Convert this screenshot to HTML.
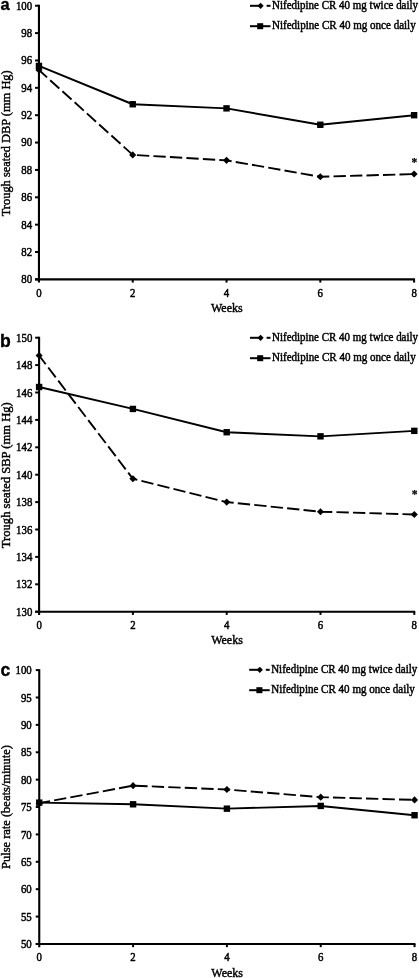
<!DOCTYPE html>
<html><head><meta charset="utf-8"><title>Figure</title>
<style>
html,body{margin:0;padding:0;background:#fff;}
body{width:419px;height:978px;overflow:hidden;font-family:"Liberation Serif",serif;}
svg{display:block;will-change:transform;filter:grayscale(1);}
.tk{font-family:"Liberation Serif",serif;font-size:12.6px;fill:#000;stroke:#000;stroke-width:0.5px;}
.ax{font-family:"Liberation Serif",serif;font-size:12px;fill:#000;stroke:#000;stroke-width:0.42px;}
.lg{font-family:"Liberation Serif",serif;font-size:11.5px;fill:#000;stroke:#000;stroke-width:0.45px;}
.pl{font-family:"Liberation Sans",sans-serif;font-weight:bold;font-size:17.6px;fill:#000;stroke:#000;stroke-width:0.35px;}
</style></head><body>
<svg width="419" height="978" viewBox="0 0 419 978">
<rect x="0" y="0" width="419" height="978" fill="#ffffff"/>

<g>
<path d="M38.95 4.83 V282.60" stroke="#000" stroke-width="2.1" fill="none"/>
<path d="M35.05 279.40 H415.00" stroke="#000" stroke-width="2.1" fill="none"/>
<path d="M35.05 279.40 H38.95" stroke="#000" stroke-width="2.0"/>
<text class="tk" transform="translate(32.15 283.30) scale(0.86 1)" text-anchor="end">80</text>
<path d="M35.05 252.03 H38.95" stroke="#000" stroke-width="2.0"/>
<text class="tk" transform="translate(32.15 255.93) scale(0.86 1)" text-anchor="end">82</text>
<path d="M35.05 224.67 H38.95" stroke="#000" stroke-width="2.0"/>
<text class="tk" transform="translate(32.15 228.57) scale(0.86 1)" text-anchor="end">84</text>
<path d="M35.05 197.30 H38.95" stroke="#000" stroke-width="2.0"/>
<text class="tk" transform="translate(32.15 201.20) scale(0.86 1)" text-anchor="end">86</text>
<path d="M35.05 169.93 H38.95" stroke="#000" stroke-width="2.0"/>
<text class="tk" transform="translate(32.15 173.83) scale(0.86 1)" text-anchor="end">88</text>
<path d="M35.05 142.56 H38.95" stroke="#000" stroke-width="2.0"/>
<text class="tk" transform="translate(32.15 146.47) scale(0.86 1)" text-anchor="end">90</text>
<path d="M35.05 115.20 H38.95" stroke="#000" stroke-width="2.0"/>
<text class="tk" transform="translate(32.15 119.10) scale(0.86 1)" text-anchor="end">92</text>
<path d="M35.05 87.83 H38.95" stroke="#000" stroke-width="2.0"/>
<text class="tk" transform="translate(32.15 91.73) scale(0.86 1)" text-anchor="end">94</text>
<path d="M35.05 60.46 H38.95" stroke="#000" stroke-width="2.0"/>
<text class="tk" transform="translate(32.15 64.36) scale(0.86 1)" text-anchor="end">96</text>
<path d="M35.05 33.10 H38.95" stroke="#000" stroke-width="2.0"/>
<text class="tk" transform="translate(32.15 37.00) scale(0.86 1)" text-anchor="end">98</text>
<path d="M35.05 5.73 H38.95" stroke="#000" stroke-width="2.0"/>
<text class="tk" transform="translate(32.15 9.63) scale(0.86 1)" text-anchor="end">100</text>
<text class="tk" transform="translate(38.95 296.70) scale(0.86 1)" text-anchor="middle">0</text>
<path d="M132.74 279.40 V282.60" stroke="#000" stroke-width="2.0"/>
<text class="tk" transform="translate(132.74 296.70) scale(0.86 1)" text-anchor="middle">2</text>
<path d="M226.53 279.40 V282.60" stroke="#000" stroke-width="2.0"/>
<text class="tk" transform="translate(226.53 296.70) scale(0.86 1)" text-anchor="middle">4</text>
<path d="M320.31 279.40 V282.60" stroke="#000" stroke-width="2.0"/>
<text class="tk" transform="translate(320.31 296.70) scale(0.86 1)" text-anchor="middle">6</text>
<path d="M414.10 279.40 V282.60" stroke="#000" stroke-width="2.0"/>
<text class="tk" transform="translate(414.10 296.70) scale(0.86 1)" text-anchor="middle">8</text>
<text class="ax" x="226.83" y="312.00" text-anchor="middle" textLength="31.7" lengthAdjust="spacingAndGlyphs">Weeks</text>
<text class="ax" transform="translate(9.5 143.3) rotate(-90)" text-anchor="middle" textLength="146" lengthAdjust="spacingAndGlyphs">Trough seated DBP (mm Hg)</text>
<text class="pl" x="0.6" y="9.8" style="font-size:16.4px">a</text>
<path d="M38.95 70.04 L132.74 154.88 L226.53 160.35 L320.31 176.77 L414.10 174.04" stroke="#000" stroke-width="1.9" fill="none" stroke-dasharray="12.33 4.18" stroke-dashoffset="1.4" stroke-linejoin="round"/>
<path d="M38.95 65.94 L132.74 104.25 L226.53 108.36 L320.31 124.78 L414.10 115.20" stroke="#000" stroke-width="1.9" fill="none" stroke-linejoin="round"/>
<path d="M38.95 66.49 L42.50 70.04 L38.95 73.59 L35.40 70.04 Z" fill="#000"/>
<path d="M132.74 151.33 L136.29 154.88 L132.74 158.43 L129.19 154.88 Z" fill="#000"/>
<path d="M226.53 156.80 L230.08 160.35 L226.53 163.90 L222.98 160.35 Z" fill="#000"/>
<path d="M320.31 173.22 L323.86 176.77 L320.31 180.32 L316.76 176.77 Z" fill="#000"/>
<path d="M414.10 170.49 L417.65 174.04 L414.10 177.59 L410.55 174.04 Z" fill="#000"/>
<rect x="35.75" y="62.74" width="6.4" height="6.4" fill="#000"/>
<rect x="129.54" y="101.05" width="6.4" height="6.4" fill="#000"/>
<rect x="223.33" y="105.16" width="6.4" height="6.4" fill="#000"/>
<rect x="317.11" y="121.58" width="6.4" height="6.4" fill="#000"/>
<rect x="410.90" y="112.00" width="6.4" height="6.4" fill="#000"/>
<text class="ax" x="414.30" y="165.94" text-anchor="middle" style="font-size:11.5px;font-weight:bold;stroke-width:0.2px">*</text>
<path d="M250.00 5.80 H259.00" stroke="#000" stroke-width="2.0"/>
<path d="M266.60 5.80 H270.50" stroke="#000" stroke-width="2.0"/>
<path d="M260.60 2.70 L263.70 5.80 L260.60 8.90 L257.50 5.80 Z" fill="#000"/>
<text class="lg" x="272.00" y="9.00" textLength="146.1" lengthAdjust="spacingAndGlyphs">Nifedipine CR 40 mg twice daily</text>
<path d="M250.00 26.20 H270.50" stroke="#000" stroke-width="2.0"/>
<rect x="257.20" y="23.20" width="6.0" height="6.0" fill="#000"/>
<text class="lg" x="272.00" y="29.40" textLength="143.7" lengthAdjust="spacingAndGlyphs">Nifedipine CR 40 mg once daily</text>
</g>
<g>
<path d="M39.10 336.80 V614.90" stroke="#000" stroke-width="2.1" fill="none"/>
<path d="M35.20 611.70 H415.20" stroke="#000" stroke-width="2.1" fill="none"/>
<path d="M35.20 611.70 H39.10" stroke="#000" stroke-width="2.0"/>
<text class="tk" transform="translate(32.30 615.80) scale(0.86 1)" text-anchor="end">130</text>
<path d="M35.20 584.30 H39.10" stroke="#000" stroke-width="2.0"/>
<text class="tk" transform="translate(32.30 588.40) scale(0.86 1)" text-anchor="end">132</text>
<path d="M35.20 556.90 H39.10" stroke="#000" stroke-width="2.0"/>
<text class="tk" transform="translate(32.30 561.00) scale(0.86 1)" text-anchor="end">134</text>
<path d="M35.20 529.50 H39.10" stroke="#000" stroke-width="2.0"/>
<text class="tk" transform="translate(32.30 533.60) scale(0.86 1)" text-anchor="end">136</text>
<path d="M35.20 502.10 H39.10" stroke="#000" stroke-width="2.0"/>
<text class="tk" transform="translate(32.30 506.20) scale(0.86 1)" text-anchor="end">138</text>
<path d="M35.20 474.70 H39.10" stroke="#000" stroke-width="2.0"/>
<text class="tk" transform="translate(32.30 478.80) scale(0.86 1)" text-anchor="end">140</text>
<path d="M35.20 447.30 H39.10" stroke="#000" stroke-width="2.0"/>
<text class="tk" transform="translate(32.30 451.40) scale(0.86 1)" text-anchor="end">142</text>
<path d="M35.20 419.90 H39.10" stroke="#000" stroke-width="2.0"/>
<text class="tk" transform="translate(32.30 424.00) scale(0.86 1)" text-anchor="end">144</text>
<path d="M35.20 392.50 H39.10" stroke="#000" stroke-width="2.0"/>
<text class="tk" transform="translate(32.30 396.60) scale(0.86 1)" text-anchor="end">146</text>
<path d="M35.20 365.10 H39.10" stroke="#000" stroke-width="2.0"/>
<text class="tk" transform="translate(32.30 369.20) scale(0.86 1)" text-anchor="end">148</text>
<path d="M35.20 337.70 H39.10" stroke="#000" stroke-width="2.0"/>
<text class="tk" transform="translate(32.30 341.80) scale(0.86 1)" text-anchor="end">150</text>
<text class="tk" transform="translate(39.10 629.00) scale(0.86 1)" text-anchor="middle">0</text>
<path d="M132.90 611.70 V614.90" stroke="#000" stroke-width="2.0"/>
<text class="tk" transform="translate(132.90 629.00) scale(0.86 1)" text-anchor="middle">2</text>
<path d="M226.70 611.70 V614.90" stroke="#000" stroke-width="2.0"/>
<text class="tk" transform="translate(226.70 629.00) scale(0.86 1)" text-anchor="middle">4</text>
<path d="M320.50 611.70 V614.90" stroke="#000" stroke-width="2.0"/>
<text class="tk" transform="translate(320.50 629.00) scale(0.86 1)" text-anchor="middle">6</text>
<path d="M414.30 611.70 V614.90" stroke="#000" stroke-width="2.0"/>
<text class="tk" transform="translate(414.30 629.00) scale(0.86 1)" text-anchor="middle">8</text>
<text class="ax" x="227.00" y="644.30" text-anchor="middle" textLength="31.7" lengthAdjust="spacingAndGlyphs">Weeks</text>
<text class="ax" transform="translate(9.5 475.2) rotate(-90)" text-anchor="middle" textLength="146" lengthAdjust="spacingAndGlyphs">Trough seated SBP (mm Hg)</text>
<text class="pl" x="0.1" y="346.5" style="font-size:17.6px">b</text>
<path d="M39.10 355.51 L132.90 478.81 L226.70 502.10 L320.50 511.69 L414.30 514.43" stroke="#000" stroke-width="1.9" fill="none" stroke-dasharray="12.33 4.18" stroke-dashoffset="1.4" stroke-linejoin="round"/>
<path d="M39.10 387.02 L132.90 408.94 L226.70 432.23 L320.50 436.34 L414.30 430.86" stroke="#000" stroke-width="1.9" fill="none" stroke-linejoin="round"/>
<path d="M39.10 351.96 L42.65 355.51 L39.10 359.06 L35.55 355.51 Z" fill="#000"/>
<path d="M132.90 475.26 L136.45 478.81 L132.90 482.36 L129.35 478.81 Z" fill="#000"/>
<path d="M226.70 498.55 L230.25 502.10 L226.70 505.65 L223.15 502.10 Z" fill="#000"/>
<path d="M320.50 508.14 L324.05 511.69 L320.50 515.24 L316.95 511.69 Z" fill="#000"/>
<path d="M414.30 510.88 L417.85 514.43 L414.30 517.98 L410.75 514.43 Z" fill="#000"/>
<rect x="35.90" y="383.82" width="6.4" height="6.4" fill="#000"/>
<rect x="129.70" y="405.74" width="6.4" height="6.4" fill="#000"/>
<rect x="223.50" y="429.03" width="6.4" height="6.4" fill="#000"/>
<rect x="317.30" y="433.14" width="6.4" height="6.4" fill="#000"/>
<rect x="411.10" y="427.66" width="6.4" height="6.4" fill="#000"/>
<text class="ax" x="414.50" y="498.03" text-anchor="middle" style="font-size:11.5px;font-weight:bold;stroke-width:0.2px">*</text>
<path d="M250.00 337.80 H259.00" stroke="#000" stroke-width="2.0"/>
<path d="M266.60 337.80 H270.50" stroke="#000" stroke-width="2.0"/>
<path d="M260.60 334.70 L263.70 337.80 L260.60 340.90 L257.50 337.80 Z" fill="#000"/>
<text class="lg" x="272.00" y="341.00" textLength="146.1" lengthAdjust="spacingAndGlyphs">Nifedipine CR 40 mg twice daily</text>
<path d="M250.00 358.20 H270.50" stroke="#000" stroke-width="2.0"/>
<rect x="257.20" y="355.20" width="6.0" height="6.0" fill="#000"/>
<text class="lg" x="272.00" y="361.40" textLength="143.7" lengthAdjust="spacingAndGlyphs">Nifedipine CR 40 mg once daily</text>
</g>
<g>
<path d="M39.25 669.20 V947.15" stroke="#000" stroke-width="2.1" fill="none"/>
<path d="M35.75 943.95 H415.45" stroke="#000" stroke-width="2.1" fill="none"/>
<path d="M35.75 943.95 H39.25" stroke="#000" stroke-width="2.0"/>
<text class="tk" transform="translate(31.75 948.05) scale(0.86 1)" text-anchor="end">50</text>
<path d="M35.75 916.57 H39.25" stroke="#000" stroke-width="2.0"/>
<text class="tk" transform="translate(31.75 920.67) scale(0.86 1)" text-anchor="end">55</text>
<path d="M35.75 889.18 H39.25" stroke="#000" stroke-width="2.0"/>
<text class="tk" transform="translate(31.75 893.28) scale(0.86 1)" text-anchor="end">60</text>
<path d="M35.75 861.80 H39.25" stroke="#000" stroke-width="2.0"/>
<text class="tk" transform="translate(31.75 865.90) scale(0.86 1)" text-anchor="end">65</text>
<path d="M35.75 834.41 H39.25" stroke="#000" stroke-width="2.0"/>
<text class="tk" transform="translate(31.75 838.51) scale(0.86 1)" text-anchor="end">70</text>
<path d="M35.75 807.03 H39.25" stroke="#000" stroke-width="2.0"/>
<text class="tk" transform="translate(31.75 811.13) scale(0.86 1)" text-anchor="end">75</text>
<path d="M35.75 779.64 H39.25" stroke="#000" stroke-width="2.0"/>
<text class="tk" transform="translate(31.75 783.74) scale(0.86 1)" text-anchor="end">80</text>
<path d="M35.75 752.26 H39.25" stroke="#000" stroke-width="2.0"/>
<text class="tk" transform="translate(31.75 756.36) scale(0.86 1)" text-anchor="end">85</text>
<path d="M35.75 724.87 H39.25" stroke="#000" stroke-width="2.0"/>
<text class="tk" transform="translate(31.75 728.97) scale(0.86 1)" text-anchor="end">90</text>
<path d="M35.75 697.49 H39.25" stroke="#000" stroke-width="2.0"/>
<text class="tk" transform="translate(31.75 701.59) scale(0.86 1)" text-anchor="end">95</text>
<path d="M35.75 670.10 H39.25" stroke="#000" stroke-width="2.0"/>
<text class="tk" transform="translate(31.75 674.20) scale(0.86 1)" text-anchor="end">100</text>
<text class="tk" transform="translate(39.25 961.25) scale(0.86 1)" text-anchor="middle">0</text>
<path d="M133.07 943.95 V947.15" stroke="#000" stroke-width="2.0"/>
<text class="tk" transform="translate(133.07 961.25) scale(0.86 1)" text-anchor="middle">2</text>
<path d="M226.90 943.95 V947.15" stroke="#000" stroke-width="2.0"/>
<text class="tk" transform="translate(226.90 961.25) scale(0.86 1)" text-anchor="middle">4</text>
<path d="M320.73 943.95 V947.15" stroke="#000" stroke-width="2.0"/>
<text class="tk" transform="translate(320.73 961.25) scale(0.86 1)" text-anchor="middle">6</text>
<path d="M414.55 943.95 V947.15" stroke="#000" stroke-width="2.0"/>
<text class="tk" transform="translate(414.55 961.25) scale(0.86 1)" text-anchor="middle">8</text>
<text class="ax" x="227.20" y="976.55" text-anchor="middle" textLength="31.7" lengthAdjust="spacingAndGlyphs">Weeks</text>
<text class="ax" transform="translate(9.5 807) rotate(-90)" text-anchor="middle" textLength="124" lengthAdjust="spacingAndGlyphs">Pulse rate (beats/minute)</text>
<text class="pl" x="0.6" y="676.1" style="font-size:17.6px">c</text>
<path d="M39.25 803.19 L133.07 785.66 L226.90 789.50 L320.73 797.17 L414.55 799.90" stroke="#000" stroke-width="1.9" fill="none" stroke-dasharray="12.33 4.18" stroke-dashoffset="1.4" stroke-linejoin="round"/>
<path d="M39.25 802.64 L133.07 804.29 L226.90 808.67 L320.73 805.93 L414.55 815.24" stroke="#000" stroke-width="1.9" fill="none" stroke-linejoin="round"/>
<path d="M39.25 799.64 L42.80 803.19 L39.25 806.74 L35.70 803.19 Z" fill="#000"/>
<path d="M133.07 782.11 L136.62 785.66 L133.07 789.21 L129.52 785.66 Z" fill="#000"/>
<path d="M226.90 785.95 L230.45 789.50 L226.90 793.05 L223.35 789.50 Z" fill="#000"/>
<path d="M320.73 793.62 L324.28 797.17 L320.73 800.72 L317.18 797.17 Z" fill="#000"/>
<path d="M414.55 796.35 L418.10 799.90 L414.55 803.45 L411.00 799.90 Z" fill="#000"/>
<rect x="36.05" y="799.44" width="6.4" height="6.4" fill="#000"/>
<rect x="129.88" y="801.09" width="6.4" height="6.4" fill="#000"/>
<rect x="223.70" y="805.47" width="6.4" height="6.4" fill="#000"/>
<rect x="317.53" y="802.73" width="6.4" height="6.4" fill="#000"/>
<rect x="411.35" y="812.04" width="6.4" height="6.4" fill="#000"/>
<path d="M249.20 669.80 H258.20" stroke="#000" stroke-width="2.0"/>
<path d="M265.80 669.80 H269.70" stroke="#000" stroke-width="2.0"/>
<path d="M259.80 666.70 L262.90 669.80 L259.80 672.90 L256.70 669.80 Z" fill="#000"/>
<text class="lg" x="271.20" y="673.00" textLength="146.1" lengthAdjust="spacingAndGlyphs">Nifedipine CR 40 mg twice daily</text>
<path d="M249.20 690.20 H269.70" stroke="#000" stroke-width="2.0"/>
<rect x="256.40" y="687.20" width="6.0" height="6.0" fill="#000"/>
<text class="lg" x="271.20" y="693.40" textLength="143.7" lengthAdjust="spacingAndGlyphs">Nifedipine CR 40 mg once daily</text>
</g>
</svg>
</body></html>
